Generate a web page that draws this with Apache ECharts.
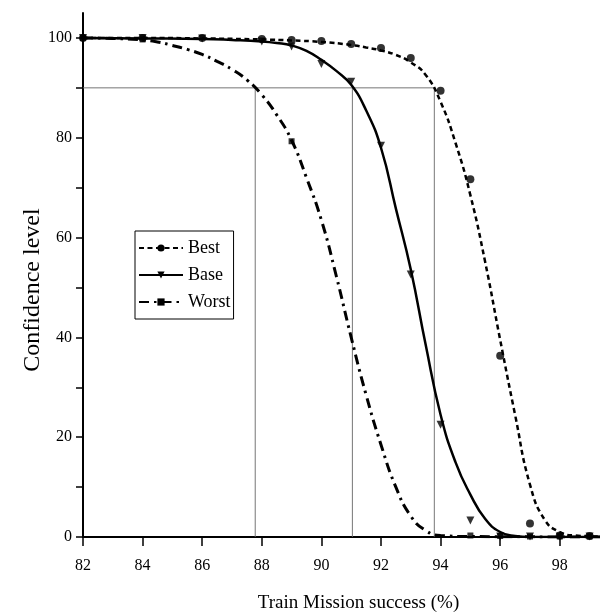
<!DOCTYPE html>
<html>
<head>
<meta charset="utf-8">
<script src="https://cdn.jsdelivr.net/npm/echarts@6/dist/echarts.min.js"></script>
<style>html,body{margin:0;padding:0;background:#fff}#c{width:600px;height:615px}</style>
</head>
<body>
<div id="c"></div>
<script>
// ---- data ----
const xTicks = [82, 84, 86, 88, 90, 92, 94, 96, 98];
const yLabelTicks = [0, 20, 40, 60, 80, 100];
const yMinorTicks = [0, 10, 20, 30, 40, 50, 60, 70, 80, 90, 100];
const seriesNames = ['Best', 'Base', 'Worst'];

// fitted curves (x, confidence)
const bestCurve = [[82,100],[84,100],[86,99.9],[88,99.7],[89,99.5],[90,99.2],[91,98.6],[91.5,98.1],[92,97.5],[92.5,96.6],[93,95.1],[93.5,92.6],[94,87.2],[94.5,79],[95,68.5],[95.5,55],[96,39.5],[96.5,24.5],[97,10.5],[97.5,3.4],[98,1.0],[98.5,0.3],[99.35,0.1]];
const baseCurve = [[82,100],[84,99.9],[86,99.8],[87,99.6],[88,99.3],[88.5,99.0],[89,98.5],[89.5,97.4],[90,95.6],[90.5,93.4],[91,90.6],[91.5,85.5],[92,78],[92.5,65.8],[93,53.6],[93.5,38.5],[94,24.5],[94.5,15],[95,8.5],[95.5,3.6],[96,1.0],[96.5,0.2],[97,0],[99.35,0]];
const worstCurve = [[82,100],[83,99.9],[84,99.6],[84.5,99.2],[85,98.5],[85.5,97.7],[86,96.7],[86.5,95.3],[87,93.7],[87.5,91.6],[88,88.6],[88.5,84.6],[89,79.5],[89.5,72],[90,63.5],[90.5,52.3],[91,40],[91.5,28.5],[92,18.5],[92.5,10],[93,4.2],[93.5,1.3],[94,0.3],[95,0.1],[99.35,0]];

// data points (markers)
const bestMarkX = [82, 84, 86, 88, 89, 90, 91, 92, 93, 94, 95, 96, 97, 98, 99];
const bestMarkY = [100, 100, 100, 99.8, 99.6, 99.4, 98.8, 98.0, 96.0, 89.4, 71.7, 36.3, 2.7, 0.3, 0.2];
const baseMarkX = [82, 84, 86, 88, 89, 90, 91, 92, 93, 94, 95, 96, 97, 98, 99];
const baseMarkY = [100, 100, 99.9, 99.3, 98.3, 94.8, 91.2, 78.4, 52.6, 22.5, 3.3, 0.1, 0.1, 0.1, 0.1];
const worstMarkX = [82, 84, 89, 95, 96, 97, 98, 99];
const worstMarkY = [100, 99.7, 79.3, 0.3, 0.2, 0.1, 0.1, 0.1];

// 90% confidence guide lines
const guideLevel = 90;
const guideX = [87.78, 91.04, 93.79];

const FONT = "'Liberation Serif', 'Times New Roman', serif";
const zip = (xs, ys) => xs.map((x, i) => [x, ys[i]]);

const guideStyle = { color: '#666', width: 0.9 };
const guideSeries = [
  { type: 'line', silent: true, symbol: 'none', lineStyle: guideStyle, z: 1,
    data: [[xTicks[0], guideLevel], [guideX[2], guideLevel]] }
].concat(guideX.map(x => ({
  type: 'line', silent: true, symbol: 'none', lineStyle: guideStyle, z: 1,
  data: [[x, 0], [x, guideLevel]]
})));

const chart = echarts.init(document.getElementById('c'), null, { renderer: 'canvas' });
chart.setOption({
  animation: false,
  backgroundColor: '#fff',
  textStyle: { fontFamily: FONT, color: '#000' },
  grid: { left: 83, right: 0, top: 13, bottom: 78, containLabel: false, outerBoundsMode: 'none' },
  legend: {
    data: seriesNames,
    orient: 'vertical',
    left: 135, top: 231,
    padding: [8, 3, 8, 3],
    itemWidth: 44, itemHeight: 9, itemGap: 9,
    borderColor: '#000', borderWidth: 1,
    textStyle: { fontFamily: FONT, fontSize: 18, color: '#000' }
  },
  xAxis: {
    type: 'value', min: 82, max: 99.35,
    name: 'Train Mission success (%)', nameLocation: 'middle', nameGap: 57, nameMoveOverlap: false,
    nameTextStyle: { fontFamily: FONT, fontSize: 19, color: '#000', padding: [0, 0, 0, 34] },
    axisLine: { show: true, onZero: false, lineStyle: { color: '#000', width: 2 } },
    axisTick: { show: true, inside: false, length: 9, customValues: xTicks, lineStyle: { color: '#000', width: 1.5 } },
    axisLabel: { customValues: xTicks, margin: 21, fontFamily: FONT, fontSize: 16, color: '#000' },
    splitLine: { show: false }
  },
  yAxis: {
    type: 'value', min: 0, max: 105,
    name: 'Confidence level', nameLocation: 'middle', nameGap: 38, nameMoveOverlap: false,
    nameTextStyle: { fontFamily: FONT, fontSize: 24, color: '#000', padding: [0, 30, 0, 0] },
    axisLine: { show: true, lineStyle: { color: '#000', width: 2 } },
    axisTick: { show: true, inside: false, length: 7, customValues: yMinorTicks, lineStyle: { color: '#000', width: 1.5 } },
    axisLabel: { customValues: yLabelTicks, margin: 11, fontFamily: FONT, fontSize: 16, color: '#000' },
    splitLine: { show: false }
  },
  series: guideSeries.concat([
    { name: 'Best', type: 'line', data: bestCurve, smooth: 0.5,
      showSymbol: false, symbol: 'circle', symbolSize: 7, z: 3,
      itemStyle: { color: '#000' },
      lineStyle: { color: '#000', width: 2.5, type: [5, 3.5] } },
    { name: 'Base', type: 'line', data: baseCurve, smooth: 0.5,
      showSymbol: false, symbol: 'triangle', symbolRotate: 180, symbolSize: 8, z: 3,
      itemStyle: { color: '#000' },
      lineStyle: { color: '#000', width: 2.5, type: 'solid' } },
    { name: 'Worst', type: 'line', data: worstCurve, smooth: 0.5,
      showSymbol: false, symbol: 'rect', symbolSize: 7, z: 3,
      itemStyle: { color: '#000' },
      lineStyle: { color: '#000', width: 3, type: [10, 5, 2.5, 5] } },
    { name: 'Best points', type: 'scatter', data: zip(bestMarkX, bestMarkY),
      symbol: 'circle', symbolSize: 8, itemStyle: { color: '#000' }, z: 4 },
    { name: 'Base points', type: 'scatter', data: zip(baseMarkX, baseMarkY),
      symbol: 'triangle', symbolRotate: 180, symbolSize: 8, itemStyle: { color: '#000' }, z: 4 },
    { name: 'Worst points', type: 'scatter', data: zip(worstMarkX, worstMarkY),
      symbol: 'rect', symbolSize: 6, itemStyle: { color: '#000' }, z: 4 }
  ])
});
</script>
</body>
</html>
